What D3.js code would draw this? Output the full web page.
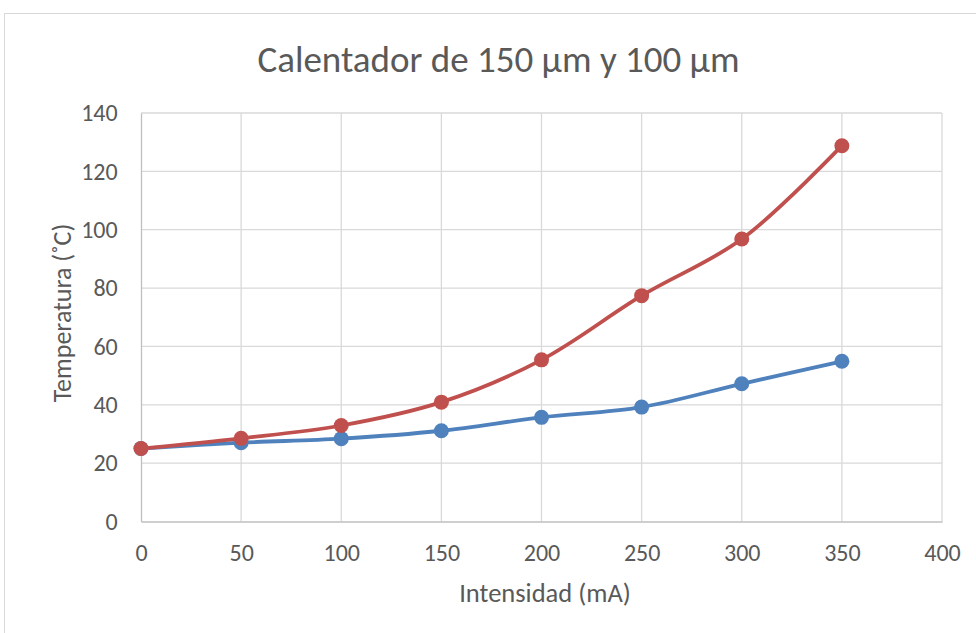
<!DOCTYPE html>
<html>
<head>
<meta charset="utf-8">
<script src="https://cdn.jsdelivr.net/npm/d3@7"></script>
<style>
  html, body { margin: 0; padding: 0; background: #fff; }
  svg text { font-family: Carlito, "Open Sans", "Liberation Sans", sans-serif; fill: #595959; }
</style>
</head>
<body>
<svg id="chart" width="976" height="633"></svg>
<script>
// Current (mA) and heater temperature (°C)
const intensities = [0, 50, 100, 150, 200, 250, 300, 350];
const temp150 = [25.0, 27.0, 28.4, 31.1, 35.7, 39.2, 47.2, 54.9];
const temp100 = [25.0, 28.5, 32.9, 40.9, 55.4, 77.4, 96.8, 128.8];
const xTicks = [0, 50, 100, 150, 200, 250, 300, 350, 400];
const yTicks = [0, 20, 40, 60, 80, 100, 120, 140];
const seriesColors = ["#4f81bd", "#c0504d"];

const svg = d3.select("#chart");
const W = 976, H = 633;
const plot = { left: 141, right: 942, top: 113, bottom: 521.5 };

// Chart frame
svg.append("rect").attr("x", 4.5).attr("y", 13.5).attr("width", W + 10).attr("height", H + 10)
  .attr("fill", "#fff").attr("stroke", "#d9d9d9").attr("stroke-width", 1);

const x = d3.scaleLinear().domain([0, 400]).range([plot.left, plot.right]);
const y = d3.scaleLinear().domain([0, 140]).range([plot.bottom, plot.top]);

// Gridlines
const grid = svg.append("g");
grid.selectAll("line.h").data(yTicks.filter(d => d > 0)).join("line")
  .attr("x1", plot.left).attr("x2", plot.right)
  .attr("y1", d => y(d)).attr("y2", d => y(d))
  .attr("stroke", "#d9d9d9").attr("stroke-width", 1.3);
grid.selectAll("line.v").data(xTicks.filter(d => d > 0)).join("line")
  .attr("y1", plot.top).attr("y2", plot.bottom)
  .attr("x1", d => x(d)).attr("x2", d => x(d))
  .attr("stroke", "#d9d9d9").attr("stroke-width", 1.3);

// Axes
const xAxis = svg.append("g").attr("transform", `translate(0,${plot.bottom})`)
  .call(d3.axisBottom(x).tickValues(xTicks).tickSize(0).tickPadding(22.5));
const yAxis = svg.append("g").attr("transform", `translate(${plot.left},0)`)
  .call(d3.axisLeft(y).tickValues(yTicks).tickSize(0).tickPadding(23.3));
[xAxis, yAxis].forEach(a => {
  a.select(".domain").attr("stroke", "#bfbfbf").attr("stroke-width", 1.3);
  a.selectAll("text").style("font-size", "24px").attr("fill", "#595959");
});

// Series lines and markers
const line = d3.line()
  .x((d, i) => x(intensities[i]))
  .y(d => y(d))
  .curve(d3.curveCatmullRom.alpha(0.5));

[temp150, temp100].forEach((vals, k) => {
  const g = svg.append("g");
  g.append("path").datum(vals).attr("d", line)
    .attr("fill", "none").attr("stroke", seriesColors[k]).attr("stroke-width", 3.8)
    .attr("stroke-linejoin", "round");
  g.selectAll("circle").data(vals).join("circle")
    .attr("cx", (d, i) => x(intensities[i])).attr("cy", d => y(d))
    .attr("r", 7.5).attr("fill", seriesColors[k]);
});

// Titles
svg.append("text").attr("x", 498.5).attr("y", 72).attr("text-anchor", "middle")
  .style("font-size", "37px").text("Calentador de 150 µm y 100 µm");
svg.append("text").attr("x", 545).attr("y", 602).attr("text-anchor", "middle")
  .style("font-size", "26.5px").text("Intensidad (mA)");
svg.append("text").attr("transform", "translate(71,313) rotate(-90)").attr("text-anchor", "middle")
  .style("font-size", "26px").text("Temperatura (˚C)");
</script>
</body>
</html>
